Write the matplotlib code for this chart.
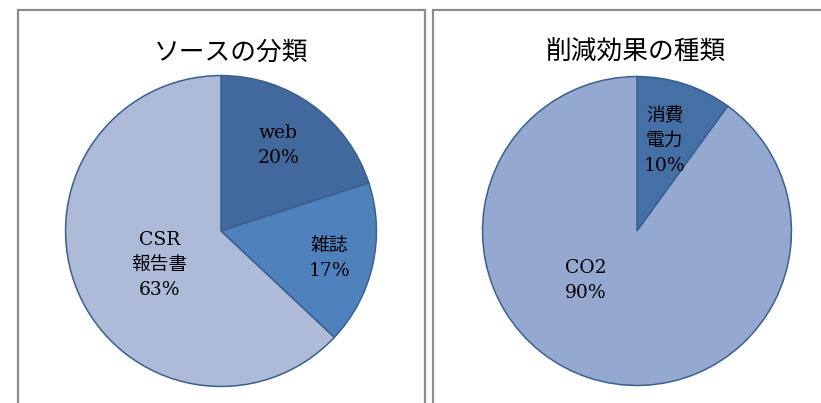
import numpy as np
import matplotlib
matplotlib.use('Agg')
from matplotlib import pyplot as plt
from matplotlib.patches import Rectangle

plt.rcParams['font.family'] = ['DejaVu Serif', 'Noto Sans CJK JP', 'DejaVu Sans']

# ソースの分類
source_labels = ['web', '雑誌', 'CSR\n報告書']
source_values = [20, 17, 63]
source_colors = ['#41699d', '#4f81bd', '#adbbd8']

# 削減効果の種類
effect_labels = ['消費\n電力', 'CO2']
effect_values = [10, 90]
effect_colors = ['#4470a5', '#95a9d0']

W, H = 821, 403
fig = plt.figure(figsize=(W / 100, H / 100), dpi=100)

# gray panel frames
for x0, x1 in [(18, 425), (433, 830)]:
    fig.patches.append(Rectangle((x0 / W, -0.05), (x1 - x0) / W, (H - 10) / H + 0.05,
                                 transform=fig.transFigure, fill=False,
                                 edgecolor='#8c8c8c', linewidth=1.6))


def draw_pie(cx, cy, r, values, labels, colors, label_pos, title, title_x):
    ax = fig.add_axes([(cx - r) / W, (H - cy - r) / H, 2 * r / W, 2 * r / H])
    wedges, _ = ax.pie(values, colors=colors, startangle=90, counterclock=False,
                       radius=1.0, wedgeprops=dict(edgecolor='#3b5f8e', linewidth=1.1))
    for w, lab, v, (ang, dist) in zip(wedges, labels, values, label_pos):
        t = np.deg2rad(ang)
        ax.text(dist * np.cos(t), dist * np.sin(t), f'{lab}\n{v}%', ha='center', va='center',
                fontsize=13.5, linespacing=1.5, color='black')
    ax.set_xlim(-1.01, 1.01)
    ax.set_ylim(-1.01, 1.01)
    ax.set_aspect('equal')
    ax.axis('off')
    fig.text(title_x / W, 1 - 53 / H, title, ha='center', va='center', fontsize=18.5,
             family=['Noto Sans CJK JP', 'DejaVu Sans'])


draw_pie(221, 231, 157, source_values, source_labels, source_colors,
         [(56, 0.66), (-14, 0.72), (209, 0.45)], 'ソースの分類', 231)
draw_pie(637, 231, 156, effect_values, effect_labels, effect_colors,
         [(73, 0.61), (224, 0.46)], '削減効果の種類', 636)

fig.savefig('out.png', dpi=100)
